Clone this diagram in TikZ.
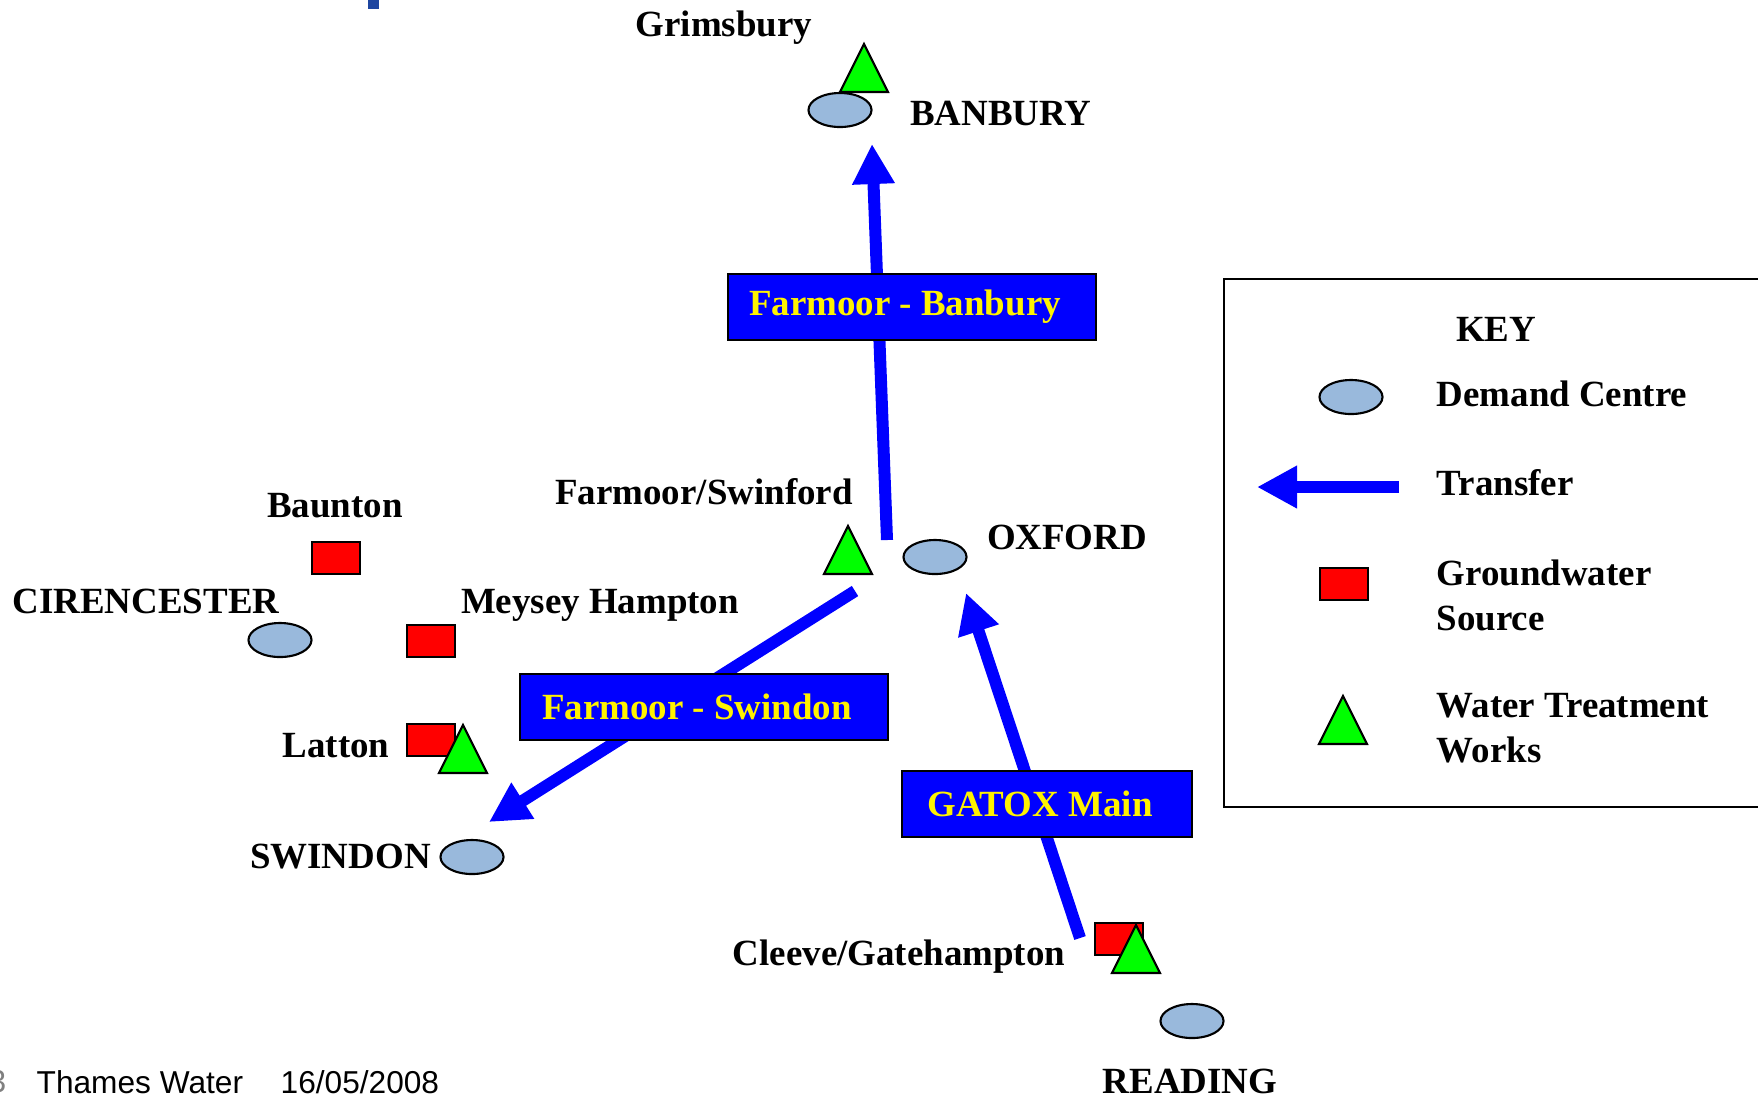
\documentclass[tikz,border=0pt]{standalone}
\usepackage{fontspec}
\setmainfont{Liberation Serif}
\newfontfamily\footfont{Liberation Sans}
\usetikzlibrary{arrows.meta,positioning,shapes.geometric}
\definecolor{demandblue}{RGB}{153,185,220}
\definecolor{titleblue}{RGB}{30,70,160}
\definecolor{pipeblue}{RGB}{0,0,255}
\begin{document}
\begin{tikzpicture}[
  x=0.01cm, y=-0.01cm,
  font=\fontsize{10.5}{12.8}\selectfont\bfseries,
  lbl/.style={inner sep=0pt},
  demand/.style={ellipse, draw, line width=0.6pt, fill=demandblue, minimum width=0.63cm, minimum height=0.34cm, inner sep=0pt},
  gwsource/.style={rectangle, draw, line width=0.6pt, fill=red, minimum width=0.48cm, minimum height=0.32cm, inner sep=0pt},
  pipelabel/.style={draw, line width=0.6pt, fill=pipeblue, text=yellow, minimum height=0.66cm, inner sep=0pt},
  transfer/.style={-{Triangle[length=0.4cm, width=0.4cm]}, line width=0.12cm, draw=pipeblue},
  wtw/.pic={\draw[line width=0.6pt, fill=green] (-24,24) -- (24,24) -- (0,-24) -- cycle;}
]
\clip (0,0) rectangle (1758,1096);
\fill[titleblue] (368,0) rectangle (379,9);

% demand centres
\node[demand] (banbury) at (840,110) {};
\node[demand] (oxford) at (935,557) {};
\node[demand] (cirencester) at (280,640) {};
\node[demand] (swindon) at (472,857) {};
\node[demand] (reading) at (1192,1021) {};

% groundwater sources
\node[gwsource] (baunton) at (336,558) {};
\node[gwsource] (meysey) at (431,641) {};
\node[gwsource] (lattongw) at (431,740) {};
\node[gwsource] (cleevegw) at (1119,939) {};

% treatment works
\pic (grimsbury) at (864,68) {wtw};
\pic (farmoor) at (848,550) {wtw};
\pic (lattonwtw) at (463,749) {wtw};
\pic (cleevewtw) at (1136,949) {wtw};

% place names
\node[lbl] (grimsburytxt) at (724,28) {Grimsbury};
\node[lbl, right=0.37cm of banbury, yshift=-0.03cm] (banburytxt) {BANBURY};
\node[lbl] (farmoortxt) at (704,492) {Farmoor/Swinford};
\node[lbl] (oxfordtxt) at (1067,537) {OXFORD};
\node[lbl] (bauntontxt) at (335,506) {Baunton};
\node[lbl] (cirencestertxt) at (146,601) {CIRENCESTER};
\node[lbl] (meyseytxt) at (600,605) {Meysey Hampton};
\node[lbl] (lattontxt) at (336,746) {Latton};
\node[lbl, left=0.08cm of swindon] (swindontxt) {SWINDON};
\node[lbl] (cleevetxt) at (899,957) {Cleeve/Gatehampton};
\node[lbl] (readingtxt) at (1190,1081) {READING};

% transfers
\coordinate (fbstart) at (887,540);
\coordinate (fbend) at (872,144);
\coordinate (fsstart) at (855,591);
\coordinate (fsend) at (489,822);
\coordinate (gxstart) at (1080,938);
\coordinate (gxend) at (966,593);
\draw[transfer] (fbstart) -- (fbend);
\draw[transfer] (fsstart) -- (fsend);
\draw[transfer] (gxstart) -- (gxend);
\node[pipelabel, minimum width=3.67cm] (fblabel) at (912,307) {Farmoor - Banbury\kern0.14cm};
\node[pipelabel, minimum width=3.68cm] (fslabel) at (704,707) {Farmoor - Swindon\kern0.14cm};
\node[pipelabel, minimum width=2.89cm] (gxlabel) at (1047,804) {GATOX Main\kern0.14cm};

% key
\draw[line width=0.6pt] (1224,279) rectangle (1800,807);
\node[lbl] (keytitle) at (1496,329) {KEY};
\node[demand] (keydemand) at (1351,397) {};
\node[lbl, anchor=west] (keydemandtxt) at (1436,394) {Demand Centre};
\coordinate (keystart) at (1399,487);
\coordinate (keyend) at (1257,487);
\draw[transfer] (keystart) -- (keyend);
\node[lbl, anchor=west] (keytransfertxt) at (1436,483) {Transfer};
\node[gwsource] (keygw) at (1344,584) {};
\node[lbl, anchor=west, align=left] (keygwtxt) at (1436,595) {Groundwater\\Source};
\pic (keywtw) at (1343,720) {wtw};
\node[lbl, anchor=west, align=left] (keywtwtxt) at (1436,728) {Water Treatment\\Works};

% footer
\node[lbl, anchor=east, text=gray, font=\footfont\fontsize{9}{11}\selectfont] (pagenum) at (7,1082) {3};
\node[lbl, anchor=west, font=\footfont\fontsize{9}{11}\selectfont] (company) at (36,1082) {Thames Water};
\node[lbl, anchor=west, font=\footfont\fontsize{9}{11}\selectfont] (date) at (280,1082) {16/05/2008};
\end{tikzpicture}
\end{document}
